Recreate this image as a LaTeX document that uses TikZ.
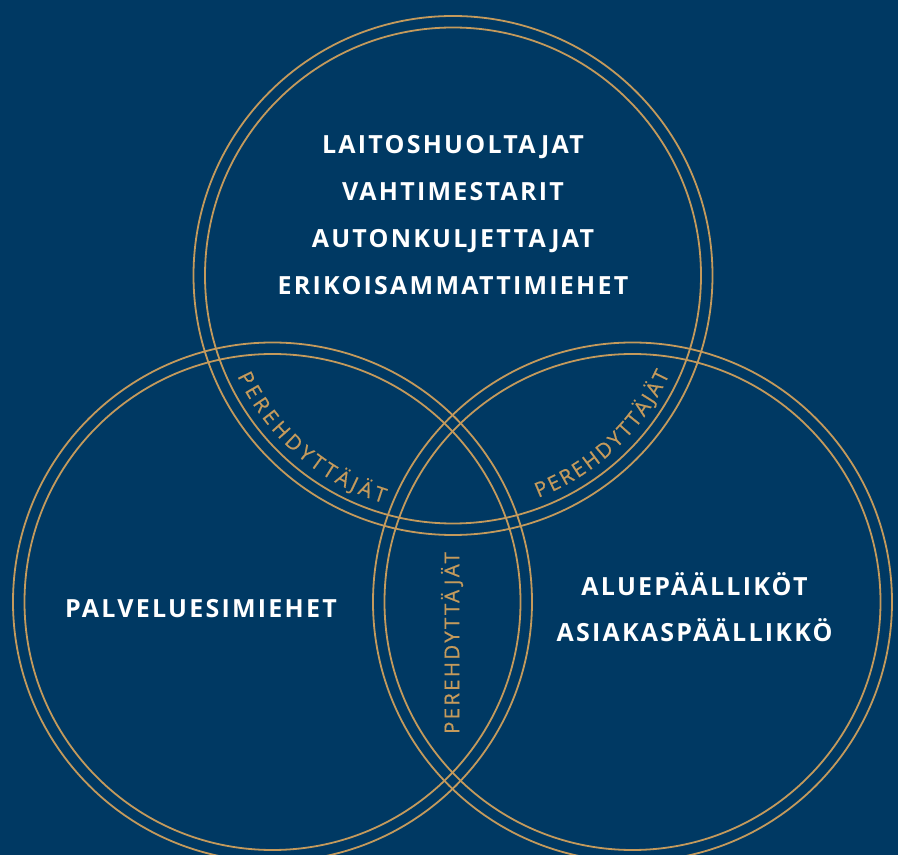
\documentclass[tikz,border=0pt]{standalone}
\usepackage{fontspec}
\setmainfont{Open Sans}
\newfontfamily\rolefont[LetterSpace=9]{Open Sans}
\newfontfamily\guidefont[LetterSpace=11,FakeBold=0.6]{Open Sans}
\usetikzlibrary{decorations.text}
\definecolor{navyblue}{RGB}{0,57,99}
\definecolor{ringgold}{RGB}{196,154,92}

\begin{document}
\begin{tikzpicture}[
    x=1pt, y=1pt,
    ring/.style={draw=ringgold, line width=1.8pt},
    role/.style={text=white, font=\rolefont\bfseries\fontsize{25}{29}\selectfont, anchor=base},
    guide/.style={text=ringgold, font=\guidefont\fontsize{20.5}{24}\selectfont},
    curvedguide/.style={decorate, decoration={text along path, text align={fit to path},
        text color=ringgold, text format delimiters={[}{]},
        text={[\guidefont\fontsize{20.5}{24}\selectfont]PEREHDYTTÄJÄT}}}
]

% Background
\fill[navyblue] (0,0) rectangle (898,855);
\useasboundingbox (0,0) rectangle (898,855);
\clip (0,0) rectangle (898,855);

% Rings
\foreach \cx/\cy in {453/579.5, 272.5/253, 632.5/253} {
    \draw[ring] (\cx,\cy) circle[radius=259.5pt];
    \draw[ring] (\cx,\cy) circle[radius=248pt];
}

% Top circle
\node (laitos) [role] at (453,701) {LAITOSHUOLTAJAT};
\node (vahti) [role] at (453,654) {VAHTIMESTARIT};
\node (auton) [role] at (453,607) {AUTONKULJETTAJAT};
\node (erikois) [role] at (453,560) {ERIKOISAMMATTIMIEHET};

% Left and right circles
\node (palvelu) [role] at (201,237) {PALVELUESIMIEHET};
\node (alue) [role] at (694.5,259) {ALUEPÄÄLLIKÖT};
\node (asiakas) [role] at (694.5,213) {ASIAKASPÄÄLLIKKÖ};

% Overlaps
\path[curvedguide] (453,579.5) ++(205:238pt) arc[start angle=205, end angle=253, radius=238pt];
\path[curvedguide] (453,579.5) ++(291:238pt) arc[start angle=291, end angle=335.5, radius=238pt];
\node (bottomguide) [guide, rotate=90] at (452,212) {PEREHDYTTÄJÄT};

\end{tikzpicture}
\end{document}
